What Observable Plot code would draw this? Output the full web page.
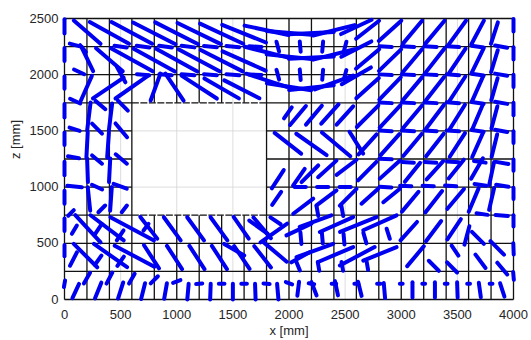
<!DOCTYPE html>
<html><head><meta charset="utf-8">
<script src="https://cdn.jsdelivr.net/npm/d3@7"></script>
<script src="https://cdn.jsdelivr.net/npm/@observablehq/plot@0.6"></script>
<style>body{margin:0;background:#fff} svg{display:block}</style>
</head><body><div id="chart"></div>
<script>
// ---- axis ticks ----
const xTicks = [0, 500, 1000, 1500, 2000, 2500, 3000, 3500, 4000];
const zTicks = [0, 500, 1000, 1500, 2000, 2500];
// ---- finite-element mesh (mm) ----
const meshX = [0,200,400,600,800,1000,1200,1400,1600,1800,2000,2200,2400,2600,2800,3000,3200,3400,3600,3800,4000];
const meshZ = [0,250,500,750,1000,1250,1500,1750,2000,2250,2500];
const holeX = [600, 1800];
const holeZ = [750, 1750];

// ---- director segments: [x centre, z centre, angle (deg), length] in mm ----
const leftEdge = [[0,2430,90,125],[0,2180,90,115],[0,1930,90,110],[0,1680,90,120],[0,1430,90,110],[0,1165,90,120],[0,910,90,115],[0,665,90,110],[0,435,90,100],[0,140,80,60]];
const rightEdge = [[4000,2440,90,110],[4000,2190,90,110],[4000,1945,90,110],[4000,1695,90,110],[4000,1445,90,105],[4000,1195,90,100],[4000,945,90,100],[4000,700,90,100],[4000,450,92,100],[4000,210,95,70]];
const topLeft = [[202,2378,-41,315],[400,2372,-29,400],[600,2372,-28,410],[100,2262,-15,110],[165,2232,-50,80],
  [205,2135,-64,230],[400,2133,-41,315],[600,2133,-29,425],[130,2025,-25,100],[505,2000,-61,155],
  [195,1880,66,240],[390,1882,34,330],[600,1890,35,355],[95,1765,-25,100],[320,1730,-40,115],[520,1725,-45,125]];
const topMiddle = [[800,2368,-27,425],[1000,2368,-27,430],[1200,2366,-26,430],[1400,2365,-25,425],[1600,2365,-22,420],
  [800,2130,-29,420],[1000,2130,-29,420],[1200,2128,-28,420],[1400,2125,-27,420],[1600,2122,-24,420],
  [811,1890,70,255],[980,1890,-56,290],[1200,1890,-33,375],[1400,1878,-30,355],[1580,1870,-27,350],
  [500,2250,-8,110],[700,2250,-8,115],[900,2250,-8,115],[1100,2250,-7,115],[1300,2250,-6,115],[1500,2250,-5,115],[1700,2250,-3,110],
  [700,2000,-5,110],[900,2000,-5,110],[1100,2000,-5,115],[1300,2000,-5,115],[1500,2000,-4,115],[1700,2000,-2,110]];
const arcs = [[1800,2395,-12,400],[2000,2372,-5,400],[2200,2370,3,400],[2400,2395,14,380],[2600,2425,25,300],
  [1800,2200,-14,400],[2000,2160,-6,400],[2200,2152,3,400],[2400,2180,14,380],[2600,2228,27,300],
  [1800,1950,-18,380],[2000,1893,-9,400],[2200,1885,6,400],[2400,1930,20,360],[2600,1990,30,300],
  [1900,2250,105,90],[2100,2250,95,90],[2300,2250,85,90],[2500,2250,75,90],
  [1900,2000,105,90],[2100,2000,95,95],[2300,2000,85,90],[2500,2000,75,85]];
const topRight = [
  [2700,2400,38,260],[2900,2390,42,270],[3100,2378,50,265],[3300,2378,50,265],[3500,2375,54,260],[3680,2375,62,240],[3830,2370,72,200],
  [2700,2140,40,270],[2900,2130,44,275],[3100,2125,50,270],[3300,2125,52,270],[3500,2125,56,260],[3680,2125,64,245],[3830,2120,73,205],
  [2700,1880,42,270],[2900,1878,46,275],[3100,1875,50,270],[3300,1875,52,265],[3500,1875,57,260],[3680,1875,66,245],[3830,1870,74,205],
  [2700,1630,45,270],[2900,1628,47,270],[3100,1625,50,265],[3300,1625,53,265],[3500,1625,58,255],[3680,1625,67,240],[3830,1620,75,205],
  [2700,1380,48,240],[2900,1378,48,250],[3100,1375,50,255],[3300,1375,52,255],[3500,1375,57,250],[3680,1375,66,235],[3830,1370,76,205],
  [2697,1142,45,231],[2899,1156,42,241],[3100,1132,51,215],[3300,1150,48,220],[3490,1160,51,215],[3675,1165,60,210],[3805,1120,78,210],
  [2720,919,42,200],[2914,925,39,190],[3080,870,50,230],[3290,870,52,240],[3485,895,50,230],[3645,885,67,225],[3805,895,77,200]];
const topRightShort = [
  [2860,2250,-3,110],[3060,2250,-3,110],[3260,2250,-3,110],[3460,2250,-4,110],[3680,2250,-8,110],[3890,2250,-10,110],
  [2860,2000,-3,110],[3060,2000,-3,110],[3260,2000,-3,110],[3460,2000,-4,110],[3680,2000,-8,110],[3890,2000,-10,110],
  [2860,1750,-3,110],[3060,1750,-3,110],[3260,1750,-3,110],[3460,1750,-4,110],[3680,1750,-8,110],[3890,1750,-10,110],
  [2860,1500,-3,110],[3060,1500,-3,110],[3260,1500,-3,110],[3460,1500,-4,110],[3680,1500,-8,110],[3890,1500,-10,110],
  [2860,1250,-3,110],[3060,1220,-3,105],[3260,1220,-3,105],[3460,1225,-4,105],[3700,1225,-8,105],[3900,1215,-10,110],
  [2860,1000,-3,105],[3040,1010,-3,100],[3240,1010,-3,100],[3440,1010,-4,100],[3705,1020,-8,105],[3900,1012,-10,110],
  [3720,760,-8,100],[3895,747,-5,110]];
const leftColumn = [[90,1515,-18,95],[80,1265,-10,100],[90,1005,-6,130],
  [217,1628,83,250],[201,1375,87,225],[205,1150,92,210],[218,895,96,210],
  [410,1624,83,240],[388,1375,86,224],[402,1150,87,210],[414,895,86,210],
  [290,1520,-45,125],[506,1505,-50,160],[290,1245,-40,115],[506,1250,-40,130],[290,1000,-25,100],[496,1007,-20,125],
  [58,770,45,70],[332,806,45,85],[533,806,52,75]];
const rightOfHole = [[1990,1660,55,120],[2080,1637,50,220],[2222,1640,50,220],[2364,1650,48,230],[2498,1637,48,220],
  [1990,1390,-38,300],[2200,1380,-35,330],[2420,1380,-40,330],[2600,1395,-58,230],
  [1900,1070,57,195],[2088,1088,55,181],[2186,1118,45,210],[2341,1162,42,220],[2513,1176,37,223],
  [2100,1000,0,100],[2300,1000,0,100],[2500,1000,0,100],
  [1890,900,55,140],[2127,830,37,223],[2334,904,37,223],[2527,910,45,210],
  [2253,787,100,90],[2475,787,100,90]];
const bottomLeft = [[209,629,-47,330],[380,638,-37,370],[603,629,-28,440],
  [751,638,-52,245],[960,629,-54,255],[1168,629,-54,255],[1376,629,-54,255],[1574,638,-55,235],[1761,638,-50,240],
  [88,621,59,86],[303,628,56,106],[496,570,56,107],[726,643,53,74],
  [187,391,-45,295],[410,391,-35,360],[624,385,-28,400],
  [775,380,-57,245],[980,374,-57,247],[1180,374,-57,247],[1380,374,-57,247],[1580,374,-56,245],[1765,380,-52,240],
  [80,360,63,133],[300,350,55,100],[500,340,55,100],[1512,443,-30,206],[1727,644,-36,200],
  [100,75,65,140],[300,80,68,150],[500,80,72,150],[700,75,76,145],[900,75,80,140],[1100,70,85,140],[1300,70,88,140],[1500,70,90,140],[1700,70,92,140],
  [200,190,60,110],[400,190,62,110],[600,185,60,100],[800,175,45,90],[1000,160,20,70],[1200,140,5,55],[1400,140,0,50],[1600,140,0,50],[1800,140,-5,55]];
const bottomRight = [[1880,700,-34,110],[1865,592,35,290],
  [2088,622,25,245],[2236,697,20,300],[2423,667,24,325],[2617,667,22,350],[2810,682,24,325],
  [3067,608,48,220],[3288,608,53,225],[3471,625,56,215],[3585,570,75,170],
  [2106,547,95,105],[2297,547,95,100],[2490,537,95,95],[2676,547,106,100],[2884,585,108,94],
  [3683,548,-45,150],[3855,459,-45,170],
  [2103,376,29,186],[2230,436,20,347],[2415,400,23,339],[2608,385,28,350],[2810,406,22,320],[3127,385,50,230],
  [2082,295,112,80],[2263,295,100,80],[2475,295,100,80],[2698,301,100,75],
  [3290,300,-45,126],[3453,285,-45,126],[3479,435,-56,107],[3706,340,-53,148],[3900,275,-50,137],[1880,420,-40,260],
  [1900,70,95,140],[2082,95,83,125],[2223,95,111,127],[2423,100,102,130],[2631,95,104,130],[2850,80,95,135],[3100,85,90,135],[3300,85,90,135],[3500,85,92,135],[3700,85,98,130],[3900,85,108,125],
  [2000,145,-20,60],[2200,140,-10,50],[2400,140,0,40],[2600,140,0,35],[2800,140,0,30],[3000,140,0,25],[3200,140,0,25],[3400,140,0,25],[3600,140,0,25],[3800,140,0,25]];

const directors = [].concat(leftEdge, rightEdge, topLeft, topMiddle, arcs, topRight, topRightShort, leftColumn, rightOfHole, bottomLeft, bottomRight)
  .map(([x, z, a, L]) => {
    const r = a * Math.PI / 180, hx = L / 2 * Math.cos(r), hz = L / 2 * Math.sin(r);
    return {x1: x - hx, z1: z - hz, x2: x + hx, z2: z + hz};
  });

// mesh lines, split around the hole
const inHoleX = x => x > holeX[0] && x < holeX[1];
const inHoleZ = z => z > holeZ[0] && z < holeZ[1];
const x0 = meshX[0], xN = meshX[meshX.length - 1], z0 = meshZ[0], zN = meshZ[meshZ.length - 1];
const meshSolid = [], meshDashed = [];
for (const z of meshZ) {
  if (inHoleZ(z)) { meshSolid.push({x1: x0, y1: z, x2: holeX[0], y2: z}, {x1: holeX[1], y1: z, x2: xN, y2: z}); }
  else if (z === holeZ[0] || z === holeZ[1]) {
    meshSolid.push({x1: x0, y1: z, x2: holeX[0], y2: z}, {x1: holeX[1], y1: z, x2: xN, y2: z});
    meshDashed.push({x1: holeX[0], y1: z, x2: holeX[1], y2: z});
  } else meshSolid.push({x1: x0, y1: z, x2: xN, y2: z});
}
for (const x of meshX) {
  if (inHoleX(x)) { meshSolid.push({x1: x, y1: z0, x2: x, y2: holeZ[0]}, {x1: x, y1: holeZ[1], x2: x, y2: zN}); }
  else meshSolid.push({x1: x, y1: z0, x2: x, y2: zN});
}

const chart = Plot.plot({
  width: 531, height: 340,
  marginLeft: 64, marginRight: 18, marginTop: 18, marginBottom: 41,
  style: {fontFamily: "'Liberation Sans', Arial, Helvetica, sans-serif", fontSize: "13px", color: "#262626", background: "white", overflow: "visible"},
  x: {domain: [0, 4000]},
  y: {domain: [0, 2500]},
  marks: [
    Plot.gridX(xTicks, {stroke: "#d4d4d4", strokeOpacity: 1, strokeWidth: 0.8}),
    Plot.gridY(zTicks, {stroke: "#d4d4d4", strokeOpacity: 1, strokeWidth: 0.8}),
    Plot.link(meshSolid, {x1: "x1", y1: "y1", x2: "x2", y2: "y2", stroke: "#111", strokeWidth: 1.3}),
    Plot.link(meshDashed, {x1: "x1", y1: "y1", x2: "x2", y2: "y2", stroke: "#111", strokeWidth: 1.3, strokeDasharray: "7,1.5"}),
    Plot.link(directors, {x1: "x1", y1: "z1", x2: "x2", y2: "z2", stroke: "#0000f0", strokeWidth: 4, strokeLinecap: "round"}),
    Plot.axisX(xTicks, {tickSize: 0, tickPadding: 10, label: null, tickFormat: d => String(d)}),
    Plot.axisY(zTicks, {tickSize: 0, tickPadding: 6, label: null, tickFormat: d => String(d)}),
    Plot.text(["x [mm]"], {text: d => d, frameAnchor: "bottom", dy: 35, fontSize: 13, fill: "#262626"}),
    Plot.text(["z [mm]"], {text: d => d, frameAnchor: "left", dx: -49, rotate: -90, fontSize: 13, fill: "#262626"})
  ]
});
document.getElementById("chart").appendChild(chart);
</script>
</body></html>
